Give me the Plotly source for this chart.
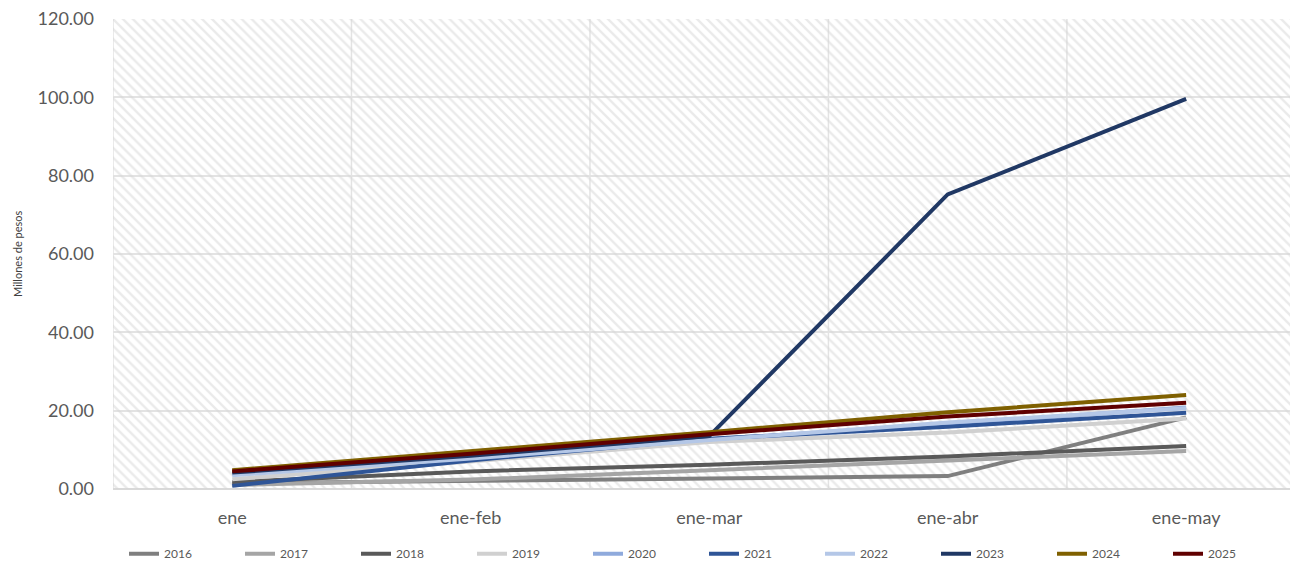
import plotly.graph_objects as go

categories = ["ene", "ene-feb", "ene-mar", "ene-abr", "ene-may"]
years = ["2016", "2017", "2018", "2019", "2020", "2021", "2022", "2023", "2024", "2025"]

v2016 = [1.5, 2.0, 2.7, 3.3, 18.3]
v2017 = [1.0, 2.4, 4.8, 7.2, 9.7]
v2018 = [1.8, 4.5, 6.2, 8.3, 11.0]
v2019 = [2.5, 7.0, 12.0, 14.4, 18.0]
v2020 = [3.8, 8.0, 12.7, 16.5, 20.8]
v2021 = [0.8, 7.3, 12.8, 15.9, 19.5]
v2022 = [3.5, 7.8, 12.5, 17.0, 20.6]
v2023 = [4.2, 8.5, 13.5, 75.2, 99.6]
v2024 = [4.8, 9.6, 14.5, 19.6, 24.0]
v2025 = [4.5, 9.0, 14.0, 18.5, 22.0]

series = [v2016, v2017, v2018, v2019, v2020, v2021, v2022, v2023, v2024, v2025]
colors = ["#7f7f7f", "#a5a5a5", "#595959", "#d0d0d0", "#8faadc",
          "#2f5597", "#b4c7e7", "#203864", "#7f6000", "#600000"]

xpos = list(range(len(categories)))

fig = go.Figure()

# hatched plot-area background
fig.add_trace(go.Scatter(
    x=[-0.5, 4.5, 4.5, -0.5, -0.5], y=[0, 0, 120, 120, 0],
    mode="lines", line=dict(width=0), fill="toself",
    fillcolor="rgba(0,0,0,0)",
    fillpattern=dict(shape="\\", fgcolor="#d6d6d6", bgcolor="rgba(0,0,0,0)",
                     size=7, solidity=0.35),
    showlegend=False, hoverinfo="skip"))

for name, vals, col in zip(years, series, colors):
    fig.add_trace(go.Scatter(x=xpos, y=vals, mode="lines", name=name,
                             line=dict(color=col, width=4)))

shapes = []
for xv in [-0.5, 0.5, 1.5, 2.5, 3.5, 4.5]:
    shapes.append(dict(type="line", xref="x", yref="y", x0=xv, x1=xv, y0=0, y1=120,
                       line=dict(color="#e3e3e3", width=1.5), layer="below"))

L, T, B, R = 105, 11, 81, 8
W = 1298 - L - R
fig.update_layout(
    width=1298, height=562,
    margin=dict(l=L, r=R, t=T, b=B, autoexpand=False),
    paper_bgcolor="white", plot_bgcolor="white",
    font=dict(family="Lato, Open Sans, sans-serif", color="#595959"),
    shapes=shapes,
    xaxis=dict(range=[-0.5, 4.469], tickvals=xpos, ticktext=categories,
               showgrid=False, zeroline=False, showline=False, automargin=False,
               tickfont=dict(size=18, color="#595959"), ticks="", ticklen=0,
               ticklabelstandoff=16, ticklabeloverflow="allow"),
    yaxis=dict(range=[0, 120], dtick=20, tickformat=".2f", automargin=False,
               showgrid=True, gridcolor="#e3e3e3", gridwidth=1.5,
               zeroline=True, zerolinecolor="#d9d9d9", zerolinewidth=2,
               tickfont=dict(size=18, color="#595959"), ticklabelstandoff=18,
               ticklabeloverflow="allow"),
    annotations=[dict(text="Millones de pesos", xref="paper", yref="paper",
                      x=(9 - L) / W, y=0.5, xanchor="center", yanchor="middle",
                      textangle=-90, showarrow=False,
                      font=dict(size=11, color="#404040"))],
    legend=dict(orientation="h", x=(696 - L) / W, xanchor="center", y=-0.107, yanchor="top",
                font=dict(size=12, color="#595959"), entrywidth=71, entrywidthmode="pixels",
                tracegroupgap=0, traceorder="normal"),
)

fig.write_html("out.html")
